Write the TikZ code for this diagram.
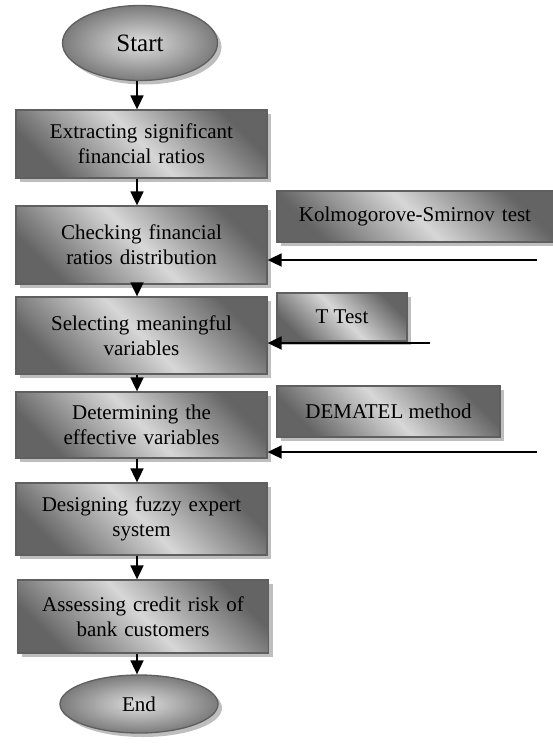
\documentclass[tikz,border=0pt]{standalone}
\usepackage{fontspec}
\setmainfont{Liberation Serif}
\usetikzlibrary{shapes.geometric,shadows,arrows.meta}
\definecolor{metdark}{RGB}{100,100,100}
\definecolor{metlight}{RGB}{215,215,215}
\definecolor{edgegray}{RGB}{95,95,95}
\definecolor{shadowgray}{RGB}{190,190,190}
\tikzset{
  shade3d/.style={shading=axis, top color=metdark, bottom color=metdark, middle color=metlight, shading angle=-45},
  shad/.style={drop shadow={shadow xshift=4pt, shadow yshift=-4pt, fill=shadowgray, opacity=1}},
  mainbox/.style={rectangle, draw=edgegray, line width=1.3pt, shad, shade3d,
    minimum width=251pt, text width=240pt, align=center, inner sep=0pt,
    font=\fontsize{21}{25}\selectfont},
  sidebox/.style={rectangle, draw=edgegray, line width=1.3pt, shad, shade3d,
    inner sep=0pt, font=\fontsize{21}{25}\selectfont},
  oval/.style={ellipse, draw=edgegray, line width=1.3pt, shad, shading=radial,
    inner color=metlight!80!white, outer color=metdark!85!white, inner sep=0pt},
  flow/.style={line width=1.8pt, -{Triangle[length=14pt,width=13pt]}},
}
\begin{document}
\begin{tikzpicture}[x=1pt,y=-1pt]
\clip (0,0) rectangle (553,747);
\fill[white] (0,0) rectangle (553,747);

\node[oval, minimum width=155pt, minimum height=75pt, font=\fontsize{25}{30}\selectfont] (start) at (140,43) {Start};
\node[mainbox, minimum height=68pt] (b1) at (141.5,144) {Extracting significant\\financial ratios};
\node[mainbox, minimum height=78pt] (b2) at (141.5,245) {Checking financial\\ratios distribution};
\node[mainbox, minimum height=77pt] (b3) at (141.5,335.5) {Selecting meaningful\\variables};
\node[mainbox, minimum height=66pt] (b4) at (141.5,425) {Determining the\\effective variables};
\node[mainbox, minimum height=72pt] (b5) at (141.5,519) {Designing fuzzy expert\\system};
\node[mainbox, minimum height=73pt] (b6) at (143,616.5) {Assessing credit risk of\\bank customers};
\node[oval, minimum width=158pt, minimum height=58pt, font=\fontsize{21}{25}\selectfont] (end) at (139,704) {End};

\node[sidebox, minimum width=279pt, minimum height=51pt, text width=279pt, align=center] (ks) at (416.5,216.5) {\hspace*{-3pt}Kolmogorove-Smirnov test};
\node[sidebox, minimum width=130pt, minimum height=48pt] (tt) at (342,317) {T Test};
\node[sidebox, minimum width=223pt, minimum height=51pt] (dm) at (388.5,411.5) {DEMATEL method};

\coordinate (k1) at (537,260);
\coordinate (k2) at (430,343);
\coordinate (k3) at (537,452);

\draw[flow] ([xshift=-3pt]start.south) -- ([xshift=-4.5pt]b1.north);
\draw[flow] ([xshift=-4.5pt]b1.south) -- ([xshift=-4.5pt]b2.north);
\draw[flow] ([xshift=-4.5pt]b2.south) -- ([xshift=-4.5pt]b3.north);
\draw[flow] ([xshift=-4.5pt]b3.south) -- ([xshift=-4.5pt]b4.north);
\draw[flow] ([xshift=-4.5pt]b4.south) -- ([xshift=-4.5pt]b5.north);
\draw[flow] ([xshift=-4.5pt]b5.south) -- ([xshift=-6pt]b6.north);
\draw[flow] ([xshift=-6pt]b6.south) -- ([xshift=-2pt]end.north);

\draw[flow] (k1) -- (k1 -| b2.east);
\draw[flow] (k2) -- (k2 -| b3.east);
\draw[flow] (k3) -- (k3 -| b4.east);
\end{tikzpicture}
\end{document}
